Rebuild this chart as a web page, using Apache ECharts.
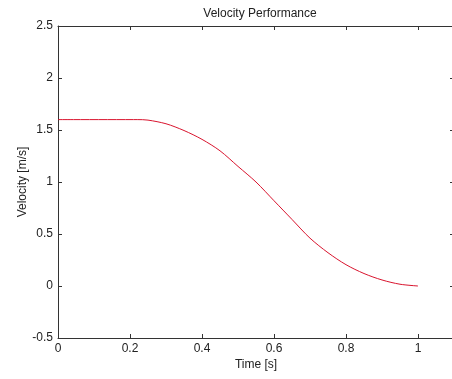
<!DOCTYPE html>
<html>
<head>
<meta charset="utf-8">
<script src="https://cdn.jsdelivr.net/npm/echarts@6/dist/echarts.min.js"></script>
<style>
html,body{margin:0;padding:0;background:#fff;overflow:hidden;}
#c{width:452px;height:379px;}
</style>
</head>
<body>
<div id="c"></div>
<script>
const titleText = "Velocity Performance";
const xName = "Time [s]";
const yName = "Velocity [m/s]";
const times = [0, 0.05, 0.1, 0.15, 0.2, 0.22, 0.25, 0.3, 0.35, 0.4, 0.45, 0.5, 0.55, 0.6, 0.65, 0.7, 0.75, 0.8, 0.85, 0.9, 0.95, 1.0];
const velocity = [1.6, 1.6, 1.6, 1.6, 1.6, 1.6, 1.595, 1.56, 1.495, 1.41, 1.30, 1.15, 1.0, 0.82, 0.64, 0.46, 0.32, 0.205, 0.12, 0.058, 0.017, 0.0];

const data = times.map((t, i) => [t, velocity[i]]);
const font = "Arial, 'Liberation Sans', sans-serif";
const axisCol = '#333';

const chart = echarts.init(document.getElementById('c'), null, {renderer: 'canvas'});
chart.setOption({
  animation: false,
  backgroundColor: '#fff',
  title: {
    text: titleText, left: 255, textAlign: 'center', top: 3,
    textStyle: {fontSize: 12, fontWeight: 'normal', color: '#222', fontFamily: font}
  },
  grid: {left: 58, top: 26, width: 396, height: 312, containLabel: false, outerBoundsMode: 'none'},
  xAxis: [{
    type: 'value', min: 0, max: 1.1, interval: 0.2, position: 'bottom',
    name: xName, nameLocation: 'middle', nameGap: 21, nameMoveOverlap: false,
    nameTextStyle: {fontSize: 12, color: '#222', fontFamily: font},
    axisLine: {show: true, onZero: false, lineStyle: {color: axisCol, width: 1}},
    axisTick: {show: true, inside: true, length: 4, lineStyle: {color: axisCol}},
    axisLabel: {fontSize: 12, color: '#222', fontFamily: font, margin: 5, showMaxLabel: false,
      formatter: v => String(+v.toFixed(2))},
    splitLine: {show: false}
  }, {
    type: 'value', min: 0, max: 1.1, interval: 0.2, position: 'top',
    axisLine: {show: true, onZero: false, lineStyle: {color: axisCol, width: 1}},
    axisTick: {show: true, inside: true, length: 4, lineStyle: {color: axisCol}},
    axisLabel: {show: false}, splitLine: {show: false}
  }],
  yAxis: [{
    type: 'value', min: -0.5, max: 2.5, interval: 0.5, position: 'left',
    name: yName, nameLocation: 'middle', nameGap: 29, nameRotate: 90, nameMoveOverlap: false,
    nameTextStyle: {fontSize: 12, color: '#222', fontFamily: font},
    axisLine: {show: true, onZero: false, lineStyle: {color: axisCol, width: 1}},
    axisTick: {show: true, inside: true, length: 4, lineStyle: {color: axisCol}},
    axisLabel: {fontSize: 12, color: '#222', fontFamily: font, margin: 5,
      formatter: v => String(+v.toFixed(2))},
    splitLine: {show: false}
  }, {
    type: 'value', min: -0.5, max: 2.5, interval: 0.5, position: 'right',
    axisLine: {show: true, onZero: false, lineStyle: {color: axisCol, width: 1}},
    axisTick: {show: true, inside: true, length: 4, lineStyle: {color: axisCol}},
    axisLabel: {show: false}, splitLine: {show: false}
  }],
  series: [{
    type: 'line', xAxisIndex: 0, yAxisIndex: 0,
    data: data, smooth: 0.3, showSymbol: false,
    lineStyle: {color: '#d9142e', width: 1}
  }]
});
</script>
</body>
</html>
